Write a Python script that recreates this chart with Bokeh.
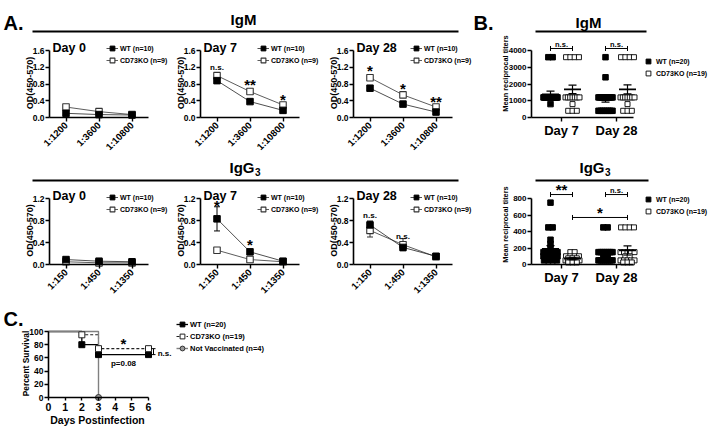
import math
from bokeh.plotting import figure
from bokeh.models import Range1d, FixedTicker, Label, Legend, LegendItem, PrintfTickFormatter
from bokeh.layouts import row, column
from bokeh.embed import file_html
from bokeh.resources import INLINE

FONT = "Liberation Sans"

# ================= DATA =================
IGM_DIL = ["1:1200", "1:3600", "1:10800"]
IGG3_DIL = ["1:150", "1:450", "1:1350"]
IGM_OD_TICKS = [0.0, 0.4, 0.8, 1.2, 1.6]
IGG3_OD_TICKS = [0.0, 0.4, 0.8, 1.2]
A_LEGEND = ["WT (n=10)", "CD73KO (n=9)"]

IGM_D0_WT = [0.10, 0.07, 0.06]
IGM_D0_WT_SEM = [0.02, 0.01, 0.01]
IGM_D0_KO = [0.25, 0.14, 0.07]
IGM_D0_KO_SEM = [0.02, 0.01, 0.01]
IGM_D0_SIG = ["", "", ""]
IGM_D0_SIG_AT = [0.0, 0.0, 0.0]

IGM_D7_WT = [0.88, 0.38, 0.17]
IGM_D7_WT_SEM = [0.04, 0.02, 0.02]
IGM_D7_KO = [1.00, 0.62, 0.30]
IGM_D7_KO_SEM = [0.05, 0.04, 0.03]
IGM_D7_SIG = ["n.s.", "**", "*"]
IGM_D7_SIG_AT = [1.24, 0.84, 0.48]

IGM_D28_WT = [0.70, 0.32, 0.13]
IGM_D28_WT_SEM = [0.05, 0.03, 0.02]
IGM_D28_KO = [0.95, 0.54, 0.25]
IGM_D28_KO_SEM = [0.06, 0.04, 0.02]
IGM_D28_SIG = ["*", "*", "**"]
IGM_D28_SIG_AT = [1.19, 0.74, 0.43]

IGG3_D0_WT = [0.09, 0.06, 0.05]
IGG3_D0_WT_SEM = [0.01, 0.01, 0.01]
IGG3_D0_KO = [0.05, 0.03, 0.03]
IGG3_D0_KO_SEM = [0.01, 0.01, 0.01]
IGG3_D0_SIG = ["", "", ""]
IGG3_D0_SIG_AT = [0.0, 0.0, 0.0]

IGG3_D7_WT = [0.83, 0.23, 0.06]
IGG3_D7_WT_SEM = [0.22, 0.04, 0.01]
IGG3_D7_KO = [0.26, 0.09, 0.05]
IGG3_D7_KO_SEM = [0.03, 0.01, 0.01]
IGG3_D7_SIG = ["*", "*", ""]
IGG3_D7_SIG_AT = [1.11, 0.41, 0.0]

IGG3_D28_WT = [0.72, 0.31, 0.15]
IGG3_D28_WT_SEM = [0.07, 0.05, 0.05]
IGG3_D28_KO = [0.62, 0.36, 0.14]
IGG3_D28_KO_SEM = [0.12, 0.11, 0.05]
IGG3_D28_SIG = ["n.s.", "n.s.", ""]
IGG3_D28_SIG_AT = [0.93, 0.54, 0.0]

# Panel B: reciprocal titers per mouse
B_DAYS = ["Day 7", "Day 28"]
B_LEGEND = ["WT (n=20)", "CD73KO (n=19)"]
IGM_B_TICKS = [0, 1000, 2000, 3000, 4000]
IGM_B_WT_D7 = [3600, 3600, 1200, 1200, 1200, 1200, 1200, 1200, 1200, 1200, 1200,
               1200, 1200, 1200, 1200, 1200, 1200, 1200, 1200, 800]
IGM_B_KO_D7 = [3600, 3600, 3600, 3600, 1200, 1200, 1200, 1200, 1200, 1200, 1200,
               800, 400, 400, 400]
IGM_B_WT_D28 = [3600, 2400, 1200, 1200, 1200, 1200, 1200, 1200, 1200, 1200, 1200,
                1200, 400, 400, 400, 400, 400, 400, 400, 400]
IGM_B_KO_D28 = [3600, 3600, 3600, 3600, 1200, 1200, 1200, 1200, 1200, 1200, 1200,
                800, 400, 400, 400]
IGM_B_WT_MEAN = [1380, 1100]
IGM_B_WT_SEM = [200, 180]
IGM_B_KO_MEAN = [1680, 1680]
IGM_B_KO_SEM = [250, 270]
IGM_B_SIG = ["n.s.", "n.s."]
IGM_B_SIG_AT = [4120, 4120]

IGG3_B_TICKS = [0, 200, 400, 600, 800]
IGG3_B_WT_D7 = [750, 450, 450, 300, 250, 200, 150, 150, 150, 150, 150, 100, 100,
                100, 100, 100, 50, 50, 50, 50]
IGG3_B_KO_D7 = [150, 150, 100, 100, 100, 100, 75, 75, 75, 50, 50, 50, 50, 50, 50,
                50, 25, 25, 25]
IGG3_B_WT_D28 = [450, 450, 150, 150, 150, 150, 150, 150, 150, 150, 100, 100, 50, 50,
                 50, 50, 50, 50, 50, 50]
IGG3_B_KO_D28 = [450, 450, 450, 450, 150, 150, 150, 150, 150, 100, 100, 50, 50, 50,
                 50, 50, 25, 25, 25]
IGG3_B_WT_MEAN = [190, 125]
IGG3_B_WT_SEM = [40, 25]
IGG3_B_KO_MEAN = [70, 170]
IGG3_B_KO_SEM = [12, 55]
IGG3_B_SIG = ["**", "n.s."]
IGG3_B_SIG_AT = [848, 848]
IGG3_B_CROSS_SIG = "*"
IGG3_B_CROSS_AT = 570

# Panel C: survival
C_WT_DAYS = [0, 2, 3, 6]
C_WT_SURV = [100, 80, 65, 65]
C_KO_DAYS = [0, 2, 3, 6]
C_KO_SURV = [100, 95, 74, 74]
C_NV_DAYS = [0, 3]
C_NV_SURV = [100, 0]
C_LEGEND = ["WT (n=20)", "CD73KO (n=19)", "Not Vaccinated (n=4)"]
C_DAY_TICKS = [0, 1, 2, 3, 4, 5, 6]
C_PCT_TICKS = [0, 20, 40, 60, 80, 100]
C_NOTES = ["*", "p=0.08"]
C_NOTES_X = [4.5, 4.5]
C_NOTES_Y = [86, 55]

# ================= LAYOUT (page pixels) =================
X_COLS = [0, 175, 327, 492, 711]
A_FRAME_LEFT = [49, 200, 353]
A_FRAME_W = 99
B_AXIS_L, B_AXIS_R = 531, 633
B_MID7, B_UNIT, B_GAP = 561.0, 22.0, 2.5
HDR_SPLIT = 470
ROWS = {
    "igm": dict(top=33, bot=152, ft=50, fb=117, hdr=(0, 33), b_top=33,
                b_line=None, b_title=None),
    "igg3": dict(top=183, bot=300, ft=198, fb=264, hdr=(152, 183), b_top=152,
                 b_line=(535, 648, 180), b_title=(604, 167)),
}
C_BOX = (0, 330, 300, 429)
C_PLOT = (48, 148, 331, 397)
STAR_K, NS_K = 0.16, 0.27   # glyph-centre height above the text baseline, in em


def text(p, x, y, s, size, align="left", baseline="alphabetic", angle=0.0, color="black"):
    p.add_layout(Label(x=x, y=y, text=s, text_font=FONT, text_font_style="bold",
                       text_font_size=f"{size}px", text_align=align,
                       text_baseline=baseline, angle=angle, text_color=color))


def sig_label(p, x, yc, s, ppu, small=8):
    star = set(s) == {"*"}
    size = 15 if star else small
    k = STAR_K if star else NS_K
    text(p, x, yc - k * size / ppu, s, size, align="center")


def igg3_title(p, x, base, X, Y, ppu):
    text(p, X(x), Y(base), "IgG", 15, align="right")
    text(p, X(x + 0.5), Y(base + 4.5), "3", 10, align="left")


def make_fig(box, plot, dom):
    """Figure whose frame fills the whole canvas; the data box `dom` maps to page px `plot`."""
    x0, x1, y0, y1 = box
    fl, fr, ft, fb = plot
    dx0, dx1, dy0, dy1 = dom
    sx = (dx1 - dx0) / (fr - fl)
    sy = (dy1 - dy0) / (fb - ft)
    xr = Range1d(dx0 - (fl - x0) * sx, dx1 + (x1 - fr) * sx)
    yr = Range1d(dy0 - (y1 - fb) * sy, dy1 + (ft - y0) * sy)
    p = figure(width=x1 - x0, height=y1 - y0, x_range=xr, y_range=yr,
               output_backend="svg", toolbar_location=None, min_border=0)
    p.outline_line_color = None
    p.xgrid.visible = False
    p.ygrid.visible = False
    p.background_fill_color = "white"
    p.border_fill_color = "white"
    for ax in p.axis:
        ax.axis_line_width = 1.6
        ax.axis_line_color = "black"
        ax.major_tick_line_width = 1.4
        ax.major_tick_line_color = "black"
        ax.major_tick_out = 4
        ax.major_tick_in = 0
        ax.minor_tick_line_color = None
        ax.major_label_text_font = FONT
        ax.major_label_text_font_style = "bold"
        ax.major_label_text_color = "black"
        ax.major_label_standoff = 2
    p.xaxis.fixed_location = dy0
    p.yaxis.fixed_location = dx0
    p.xaxis.bounds = (dx0, dx1)
    p.yaxis.bounds = (dy0, dy1)
    X = lambda px: dx0 + (px - fl) * sx
    Y = lambda py: dy0 + (fb - py) * sy
    return p, X, Y, 1.0 / sy


def make_legend(items, box, left_px, top_px, size, step):
    x0, x1, y0, y1 = box
    n = len(items)
    height = 12 + (n - 1) * step
    return Legend(items=items, location=(left_px - x0, y1 - (top_px + height)),
                  glyph_width=12, glyph_height=12, label_height=8, spacing=step - 12,
                  padding=0, margin=0, label_standoff=2, border_line_color=None,
                  background_fill_alpha=0, label_text_font=FONT,
                  label_text_font_style="bold", label_text_font_size=f"{size}px",
                  label_text_color="black")


def header(x0, x1, ys, letter, title_x, title_base, line, sub):
    y0, y1 = ys
    p = figure(width=x1 - x0, height=y1 - y0, x_range=Range1d(x0, x1),
               y_range=Range1d(y1, y0), output_backend="svg", toolbar_location=None,
               x_axis_location=None, y_axis_location=None, min_border=0)
    p.outline_line_color = None
    p.xgrid.visible = False
    p.ygrid.visible = False
    p.background_fill_color = "white"
    p.border_fill_color = "white"
    if line:
        p.segment([line[0]], [line[2]], [line[1]], [line[2]], line_color="black",
                  line_width=2.2)
    if letter:
        text(p, letter[1], letter[2], letter[0], 20)
    if sub:
        igg3_title(p, title_x, title_base, lambda v: v, lambda v: v, 1.0)
    else:
        text(p, title_x, title_base, "IgM", 15, align="center")
    return p


def od_panel(col, rk, dil, ticks, day, wt, wt_sem, ko, ko_sem, sig, sig_at, leg_top):
    r = ROWS[rk]
    box = (X_COLS[col], X_COLS[col + 1], r["top"], r["bot"])
    fl = A_FRAME_LEFT[col]
    plot = (fl, fl + A_FRAME_W, r["ft"], r["fb"])
    p, X, Y, ppu = make_fig(box, plot, (-0.5, len(dil) - 0.5, 0.0, ticks[-1]))
    xs = list(range(len(dil)))
    kl = p.line(xs, ko, line_color="#333333", line_width=0.8)
    wl = p.line(xs, wt, line_color="#222222", line_width=0.8)
    for vals, sems, col_ in ((ko, ko_sem, "#333333"), (wt, wt_sem, "black")):
        lo = [v - s for v, s in zip(vals, sems)]
        hi = [v + s for v, s in zip(vals, sems)]
        p.segment(xs, lo, xs, hi, line_color=col_, line_width=1)
        p.scatter(xs + xs, lo + hi, marker="dash", size=6, line_color=col_, line_width=1)
    km = p.scatter(xs, ko, marker="square", size=6.5, fill_color="white",
                   line_color="#333333", line_width=1.1)
    wm = p.scatter(xs, wt, marker="square", size=6.5, fill_color="black", line_color="black")
    p.xaxis.ticker = FixedTicker(ticks=xs)
    p.xaxis.major_label_overrides = {i: d for i, d in zip(xs, dil)}
    p.xaxis.major_label_orientation = math.pi / 4
    p.xaxis.major_label_text_font_size = "9.5px"
    p.yaxis.ticker = FixedTicker(ticks=ticks)
    p.yaxis.formatter = PrintfTickFormatter(format="%.1f")
    p.yaxis.major_label_text_font_size = "8.5px"
    p.yaxis.major_label_standoff = 1
    text(p, X(fl - 20), Y((r["ft"] + r["fb"]) / 2 - 1), "OD(450-570)", 9, align="center",
         baseline="middle", angle=math.pi / 2)
    text(p, X(fl + 3), Y(r["ft"] - 3), day, 12.5)
    for x, s, at in zip(xs, sig, sig_at):
        if s:
            sig_label(p, x, at, s, ppu)
    p.add_layout(make_legend([LegendItem(label=A_LEGEND[0], renderers=[wl, wm]),
                              LegendItem(label=A_LEGEND[1], renderers=[kl, km])],
                             box, fl + 57, leg_top, 7, 8))
    return p


def row_offsets(values, step, span):
    counts = {}
    for v in values:
        counts[v] = counts.get(v, 0) + 1
    seen, out = {}, []
    for v in values:
        k = counts[v]
        i = seen.get(v, 0)
        seen[v] = i + 1
        s = step if k == 1 else min(step, span / (k - 1))
        out.append((i - (k - 1) / 2) * s)
    return out


def titer_panel(rk, wt_groups, ko_groups, wt_mean, wt_sem, ko_mean, ko_sem, ticks,
                pair_sig, pair_at, cross_sig, cross_at, label_cy, leg_top, leg_step):
    r = ROWS[rk]
    box = (X_COLS[3], X_COLS[4], r["b_top"], r["bot"])
    plot = (B_AXIS_L, B_AXIS_R, r["ft"], r["fb"])
    dom = ((B_AXIS_L - B_MID7) / B_UNIT, (B_AXIS_R - B_MID7) / B_UNIT, 0, ticks[-1])
    p, X, Y, ppu = make_fig(box, plot, dom)
    if r["b_line"]:
        lx0, lx1, ly = r["b_line"]
        p.segment([X(lx0)], [Y(ly)], [X(lx1)], [Y(ly)], line_color="black", line_width=2.2)
    if r["b_title"]:
        igg3_title(p, r["b_title"][0], r["b_title"][1], X, Y, ppu)
    centers = [g * B_GAP for g in range(len(B_DAYS))]
    step, span = 4.3 / B_UNIT, 14 / B_UNIT
    wx, wy, kx, ky = [], [], [], []
    for c, vals in zip(centers, wt_groups):
        wx += [c - 0.5 + o for o in row_offsets(vals, step, span)]
        wy += list(vals)
    for c, vals in zip(centers, ko_groups):
        kx += [c + 0.5 + o for o in row_offsets(vals, step, span)]
        ky += list(vals)
    km = p.scatter(kx, ky, marker="square", size=5, fill_color="white",
                   line_color="black", line_width=0.9)
    wm = p.scatter(wx, wy, marker="square", size=5.5, fill_color="black", line_color="black")
    for sgn, means, sems in ((-0.5, wt_mean, wt_sem), (0.5, ko_mean, ko_sem)):
        mx = [c + sgn for c in centers]
        lo = [m - s for m, s in zip(means, sems)]
        hi = [m + s for m, s in zip(means, sems)]
        p.segment(mx, lo, mx, hi, line_color="black", line_width=1.2)
        p.scatter(mx, list(means), marker="dash", size=17, line_color="black", line_width=1.6)
        p.scatter(mx + mx, lo + hi, marker="dash", size=8, line_color="black", line_width=1.2)
    bx0 = [c - 0.5 for c in centers]
    bx1 = [c + 0.5 for c in centers]
    p.segment(bx0, pair_at, bx1, pair_at, line_color="black", line_width=1)
    p.scatter(bx0 + bx1, list(pair_at) + list(pair_at), marker="dash", angle=math.pi / 2,
              size=5, line_color="black", line_width=1)
    for c, s, at in zip(centers, pair_sig, pair_at):
        off = 7 if set(s) == {"*"} else 6
        sig_label(p, c, at + off / ppu, s, ppu, small=7.5)
    if cross_sig:
        cx0, cx1 = centers[0] + 0.5, centers[1] + 0.5
        p.segment([cx0], [cross_at], [cx1], [cross_at], line_color="black", line_width=1)
        p.scatter([cx0, cx1], [cross_at, cross_at], marker="dash", angle=math.pi / 2,
                  size=5, line_color="black", line_width=1)
        sig_label(p, (cx0 + cx1) / 2, cross_at + 7 / ppu, cross_sig, ppu)
    p.xaxis.ticker = FixedTicker(ticks=centers)
    p.xaxis.major_label_overrides = {c: d for c, d in zip(centers, B_DAYS)}
    p.xaxis.major_label_text_font_size = "13px"
    p.xaxis.major_label_standoff = 1
    p.yaxis.ticker = FixedTicker(ticks=ticks)
    p.yaxis.major_label_text_font_size = "8px"
    p.yaxis.major_label_standoff = 1
    text(p, X(505), Y(label_cy), "Mean reciprocal titers", 7.4, align="center",
         baseline="middle", angle=math.pi / 2)
    p.add_layout(make_legend([LegendItem(label=B_LEGEND[0], renderers=[wm]),
                              LegendItem(label=B_LEGEND[1], renderers=[km])],
                             box, 642, leg_top, 7, leg_step))
    return p


def survival_panel():
    p, X, Y, ppu = make_fig(C_BOX, C_PLOT, (C_DAY_TICKS[0], C_DAY_TICKS[-1],
                                            C_PCT_TICKS[0], C_PCT_TICKS[-1]))
    wl = p.step(C_WT_DAYS, C_WT_SURV, mode="after", line_color="black", line_width=1.3)
    kl = p.step(C_KO_DAYS, C_KO_SURV, mode="after", line_color="#222222", line_width=1.1,
                line_dash="3 2")
    nl = p.step(C_NV_DAYS, C_NV_SURV, mode="after", line_color="#808080", line_width=1.4)
    wm = p.scatter(C_WT_DAYS[1:], C_WT_SURV[1:], marker="square", size=6,
                   fill_color="black", line_color="black")
    km = p.scatter(C_KO_DAYS[1:], C_KO_SURV[1:], marker="square", size=6,
                   fill_color="white", line_color="#222222", line_width=1)
    nm = p.scatter(C_NV_DAYS[1:], C_NV_SURV[1:], marker="circle", size=6,
                   fill_color="#999999", line_color="#333333", line_width=1)
    p.xaxis.ticker = FixedTicker(ticks=C_DAY_TICKS)
    p.xaxis.major_label_text_font_size = "10.5px"
    p.xaxis.major_tick_out = 3
    p.yaxis.ticker = FixedTicker(ticks=C_PCT_TICKS)
    p.yaxis.major_label_text_font_size = "8.5px"
    p.yaxis.major_label_standoff = 1
    text(p, X(3), Y(318), "C.", 20)
    text(p, X(25), Y(363), "Percent Survival", 8.4, align="center", baseline="middle",
         angle=math.pi / 2)
    text(p, X(97), Y(419), "Days Postinfection", 10.5, align="center")
    for s, x, y in zip(C_NOTES, C_NOTES_X, C_NOTES_Y):
        sig_label(p, x, y, s, ppu)
    bx = C_DAY_TICKS[-1] + 0.3
    lo, hi = C_WT_SURV[-1], C_KO_SURV[-1]
    p.segment([bx], [lo], [bx], [hi], line_color="black", line_width=1)
    p.scatter([bx, bx], [lo, hi], marker="dash", size=4, line_color="black", line_width=1)
    text(p, bx + 0.25, (lo + hi) / 2 - NS_K * 8 / ppu, "n.s.", 8)
    p.add_layout(make_legend([LegendItem(label=C_LEGEND[0], renderers=[wl, wm]),
                              LegendItem(label=C_LEGEND[1], renderers=[kl, km]),
                              LegendItem(label=C_LEGEND[2], renderers=[nl, nm])],
                             C_BOX, 176, 326, 7.5, 8))
    return p


# ---------------- assemble ----------------
R1, R2 = ROWS["igm"], ROWS["igg3"]
h1a = header(X_COLS[0], HDR_SPLIT, R1["hdr"], ("A.", 3, 22), 243, 19, (32, 458, 31), False)
h1b = header(HDR_SPLIT, X_COLS[4], R1["hdr"], ("B.", 473, 22), 588, 22, (535, 646, 31), False)
h2a = header(X_COLS[0], X_COLS[3], R2["hdr"], None, 254, 167, (32, 458, 180), True)

a_m0 = od_panel(0, "igm", IGM_DIL, IGM_OD_TICKS, "Day 0", IGM_D0_WT, IGM_D0_WT_SEM,
                IGM_D0_KO, IGM_D0_KO_SEM, IGM_D0_SIG, IGM_D0_SIG_AT, 46)
a_m7 = od_panel(1, "igm", IGM_DIL, IGM_OD_TICKS, "Day 7", IGM_D7_WT, IGM_D7_WT_SEM,
                IGM_D7_KO, IGM_D7_KO_SEM, IGM_D7_SIG, IGM_D7_SIG_AT, 46)
a_m28 = od_panel(2, "igm", IGM_DIL, IGM_OD_TICKS, "Day 28", IGM_D28_WT, IGM_D28_WT_SEM,
                 IGM_D28_KO, IGM_D28_KO_SEM, IGM_D28_SIG, IGM_D28_SIG_AT, 46)
b_m = titer_panel("igm", [IGM_B_WT_D7, IGM_B_WT_D28], [IGM_B_KO_D7, IGM_B_KO_D28],
                  IGM_B_WT_MEAN, IGM_B_WT_SEM, IGM_B_KO_MEAN, IGM_B_KO_SEM, IGM_B_TICKS,
                  IGM_B_SIG, IGM_B_SIG_AT, None, None, 73, 57, 10)

a_g0 = od_panel(0, "igg3", IGG3_DIL, IGG3_OD_TICKS, "Day 0", IGG3_D0_WT, IGG3_D0_WT_SEM,
                IGG3_D0_KO, IGG3_D0_KO_SEM, IGG3_D0_SIG, IGG3_D0_SIG_AT, 195)
a_g7 = od_panel(1, "igg3", IGG3_DIL, IGG3_OD_TICKS, "Day 7", IGG3_D7_WT, IGG3_D7_WT_SEM,
                IGG3_D7_KO, IGG3_D7_KO_SEM, IGG3_D7_SIG, IGG3_D7_SIG_AT, 195)
a_g28 = od_panel(2, "igg3", IGG3_DIL, IGG3_OD_TICKS, "Day 28", IGG3_D28_WT, IGG3_D28_WT_SEM,
                 IGG3_D28_KO, IGG3_D28_KO_SEM, IGG3_D28_SIG, IGG3_D28_SIG_AT, 195)
b_g = titer_panel("igg3", [IGG3_B_WT_D7, IGG3_B_WT_D28], [IGG3_B_KO_D7, IGG3_B_KO_D28],
                  IGG3_B_WT_MEAN, IGG3_B_WT_SEM, IGG3_B_KO_MEAN, IGG3_B_KO_SEM, IGG3_B_TICKS,
                  IGG3_B_SIG, IGG3_B_SIG_AT, IGG3_B_CROSS_SIG, IGG3_B_CROSS_AT, 224, 197, 8)

c = survival_panel()

layout = column(row(h1a, h1b),
                row(a_m0, a_m7, a_m28, b_m),
                row(column(h2a, row(a_g0, a_g7, a_g28)), b_g),
                row(c))

open("out.html", "w").write(file_html(layout, INLINE))
